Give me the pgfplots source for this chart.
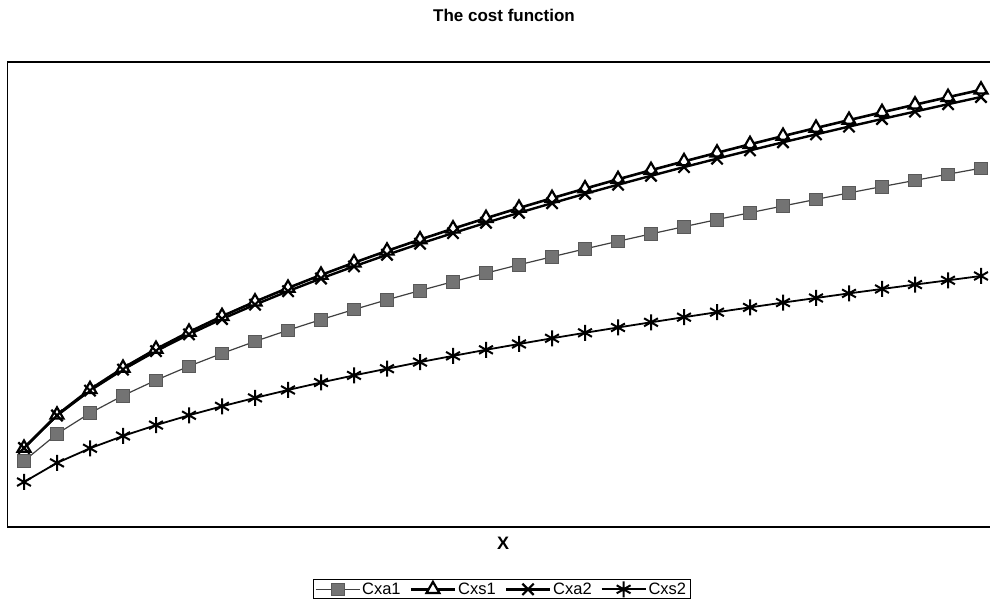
\documentclass[border=0pt]{standalone}
\usepackage{pgfplots}
\usepackage{pgfplotstable}
\pgfplotsset{compat=1.18}
\usepackage{fontspec}
\setmainfont{Liberation Sans}
\pgfplotstableread{
n  a1     s1     a2     s2
1  66.0   79.0   79.0   45.0
2  93.1   112.1  111.5  64.1
3  113.9  137.6  136.4  78.7
4  131.4  159.0  157.4  91.0
5  146.8  177.9  175.9  101.9
6  160.8  195.0  192.6  111.7
7  173.6  210.7  208.0  120.7
8  185.6  225.3  222.3  129.1
9  196.8  239.0  235.8  137.0
10 207.4  252.0  248.5  144.5
11 217.5  264.3  260.6  151.6
12 227.2  276.1  272.2  158.3
13 236.4  287.4  283.3  164.9
14 245.3  298.3  293.9  171.1
15 253.9  308.8  304.2  177.2
16 262.2  319.0  314.2  183.0
17 270.2  328.8  323.8  188.7
18 278.1  338.4  333.2  194.2
19 285.7  347.7  342.3  199.5
20 293.1  356.8  351.2  204.7
21 300.3  365.6  359.9  209.8
22 307.4  374.2  368.3  214.8
23 314.3  382.7  376.6  219.6
24 321.0  390.9  384.7  224.4
25 327.6  399.0  392.6  229.0
26 334.1  406.9  400.4  233.6
27 340.4  414.7  408.0  238.0
28 346.6  422.3  415.4  242.4
29 352.8  429.8  422.8  246.7
30 358.8  437.2  430.0  251.0
}\datatable
\begin{document}
\begin{tikzpicture}[x=1bp,y=1bp]
\useasboundingbox (0,0) rectangle (990,606);
\node[font=\bfseries\fontsize{17bp}{20bp}\selectfont] at (504,591) {The cost function};
\node[font=\bfseries\fontsize{18bp}{21bp}\selectfont] at (503,63) {X};
\begin{axis}[
  at={(7.5bp,79bp)}, anchor=south west,
  scale only axis, width=990bp, height=465bp,
  xmin=0.5, xmax=30.5, ymin=0, ymax=465,
  ticks=none,
  axis line style={line width=1.6bp},
  legend columns=4,
  legend style={at={(0.499,-0.134)}, anchor=center, draw=black, line width=0.8bp,
    font=\fontsize{16.5bp}{19bp}\selectfont, inner xsep=2bp, inner ysep=1bp,
    /tikz/every even column/.append style={column sep=7bp}},
  legend image code/.code={\draw[mark repeat=2,mark phase=2,#1] plot coordinates {(0bp,0bp)(22bp,0bp)(44bp,0bp)};},
]
\addplot[color=black!75, line width=1.2bp, mark=square*, mark size=6.3bp,
  mark options={fill=black!55, draw=black!65, line width=0.6bp}] table[x=n,y=a1] {\datatable};
\addlegendentry{Cxa1}
\addplot[color=black, line width=2.6bp, mark=triangle*, mark size=7.5bp,
  mark options={fill=white, draw=black, line width=2.2bp}] table[x=n,y=s1] {\datatable};
\addlegendentry{Cxs1}
\addplot[color=black, line width=2.4bp, mark=x, mark size=8bp,
  mark options={line width=2.2bp}] table[x=n,y=a2] {\datatable};
\addlegendentry{Cxa2}
\addplot[color=black, line width=1.8bp, mark=asterisk, mark size=8bp,
  mark options={line width=2bp}] table[x=n,y=s2] {\datatable};
\addlegendentry{Cxs2}
\end{axis}
\end{tikzpicture}
\end{document}
